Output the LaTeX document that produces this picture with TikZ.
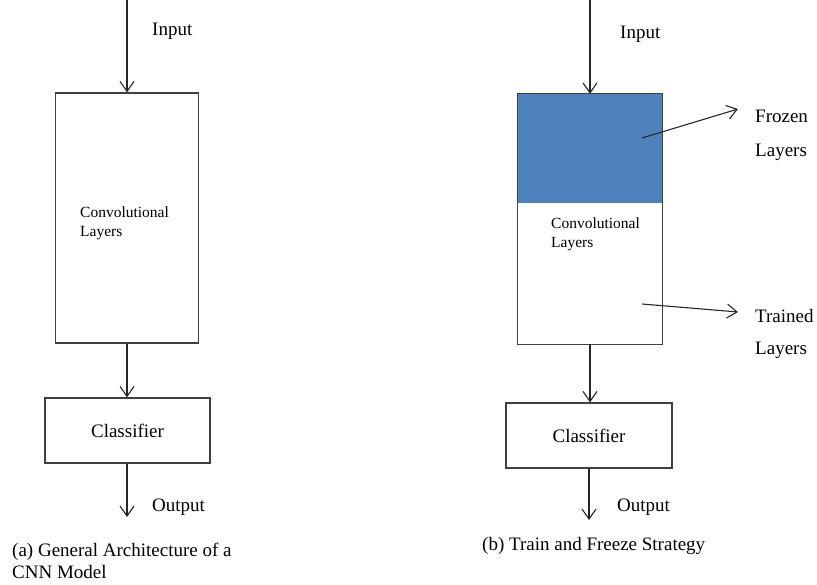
\documentclass[tikz,border=0pt]{standalone}
\usepackage{fontspec}
\setmainfont{Liberation Serif}
\usetikzlibrary{arrows.meta}
\definecolor{frozenblue}{HTML}{4F81BD}
\begin{document}
\begin{tikzpicture}[x=1pt,y=-1pt,
  boxline/.style={draw=black!75, line width=1.3pt},
  box/.style={boxline, inner sep=0pt, font=\fontsize{19}{23}\selectfont},
  arr/.style={draw=black!85, line width=1.1pt, -{Straight Barb[length=10pt,width=14pt]}},
  lbl/.style={inner sep=0pt, anchor=base west, font=\fontsize{19}{23}\selectfont},
  small/.style={inner sep=0pt, anchor=base west, font=\fontsize{15.5}{18}\selectfont}]
\useasboundingbox (0,0) rectangle (817,584);
% ---------- (a) ----------
\node[box, minimum width=143pt, minimum height=250pt] (convA) at (127,218) {};
\node[small] (convA1) at (80,217) {Convolutional};
\node[small] (convA2) at (80,236) {Layers};
\node[box, minimum width=165pt, minimum height=65pt] (clsA) at (127.5,430.5) {Classifier};
\coordinate (inA) at (127,0);
\coordinate (outA) at (127,517);
\draw[arr] (inA) -- (convA.north);
\draw[arr] (convA.south) -- (convA.south |- clsA.north);
\draw[arr] (outA |- clsA.south) -- (outA);
\node[lbl] (inputA) at (152,35) {Input};
\node[lbl] (outputA) at (152,511) {Output};
\node[lbl] (capA1) at (12,556) {(a) General Architecture of a};
\node[lbl] (capA2) at (12,578) {CNN Model};
% ---------- (b) ----------
\path node[inner sep=0pt, minimum width=144pt, minimum height=250pt] (convB) at (590,219) {};
\fill[frozenblue] (convB.north west) rectangle (convB.east |- 0,203);
\draw[boxline] (convB.north west) rectangle (convB.south east);
\node[small] (convB1) at (551,228) {Convolutional};
\node[small] (convB2) at (551,247) {Layers};
\node[box, minimum width=166pt, minimum height=65pt] (clsB) at (589,435.5) {Classifier};
\coordinate (inB) at (590,0);
\coordinate (outB) at (589,520);
\draw[arr] (inB) -- (convB.north);
\draw[arr] (convB.south) -- (convB.south |- clsB.north);
\draw[arr] (clsB.south) -- (outB);
\node[lbl] (inputB) at (620,38) {Input};
\node[lbl] (outputB) at (617,511) {Output};
\coordinate (fzS) at (642,138);
\coordinate (fzE) at (738,109);
\draw[arr] (fzS) -- (fzE);
\node[lbl] (fz1) at (755,122) {Frozen};
\node[lbl] (fz2) at (755,156) {Layers};
\coordinate (trS) at (642,304);
\coordinate (trE) at (738,312);
\draw[arr] (trS) -- (trE);
\node[lbl] (tr1) at (755,322) {Trained};
\node[lbl] (tr2) at (755,354) {Layers};
\node[lbl] (capB) at (482,550) {(b) Train and Freeze Strategy};
\end{tikzpicture}
\end{document}
